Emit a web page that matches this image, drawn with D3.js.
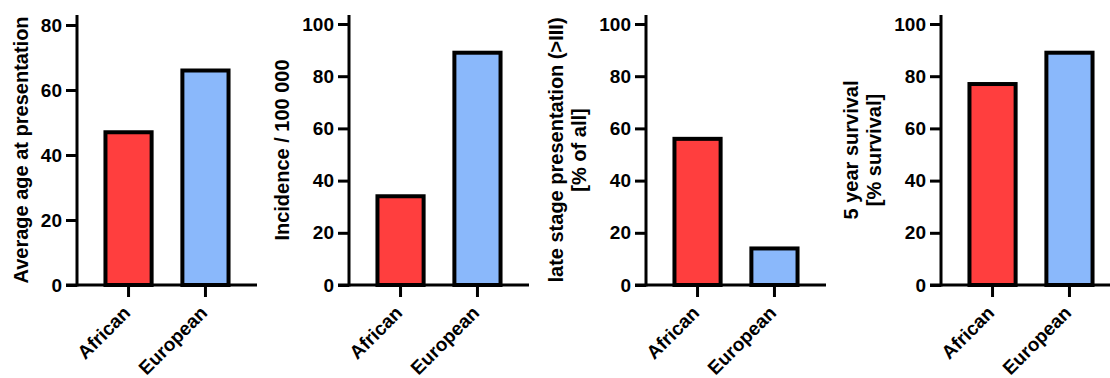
<!DOCTYPE html>
<html>
<head>
<meta charset="utf-8">
<title>Breast cancer: African vs European</title>
<script src="https://d3js.org/d3.v7.min.js"></script>
<style>
  body { margin: 0; background: #fff; }
  text { font-family: "Liberation Sans", Arial, sans-serif; font-weight: bold; fill: #000; }
</style>
</head>
<body>
<svg id="chart" width="1110" height="378"></svg>
<script>
// data
var groups = ["African", "European"];
var ageValues = [47, 66];
var incidenceValues = [34, 89];
var lateStageValues = [56, 14];
var survivalValues = [77, 89];

var ageTicks = [0, 20, 40, 60, 80];
var pctTicks = [0, 20, 40, 60, 80, 100];

var titleAge = ["Average age at presentation"];
var titleIncidence = ["Incidence / 100 000"];
var titleLate = ["late stage presentation (>III)", "[% of all]"];
var titleSurvival = ["5 year survival", "[% survival]"];

var colors = ["#ff3e3e", "#8ab8fb"];

var panels = [
  {values: ageValues, ticks: ageTicks, title: titleAge, left: 77},
  {values: incidenceValues, ticks: pctTicks, title: titleIncidence, left: 349},
  {values: lateStageValues, ticks: pctTicks, title: titleLate, left: 646},
  {values: survivalValues, ticks: pctTicks, title: titleSurvival, left: 941}
];

var svg = d3.select("#chart");
var y0 = 285, yTop = 24, axisTop = 15, plotW = 180;

panels.forEach(function(p) {
  var g = svg.append("g").attr("transform", "translate(" + p.left + ",0)");
  var top = p.ticks[p.ticks.length - 1];

  var y = d3.scaleLinear()
    .domain([0, top])
    .range([y0, top === 80 ? 25 : yTop]);

  var x = d3.scaleBand()
    .domain(groups)
    .range([0, plotW])
    .paddingInner(0.4)
    .paddingOuter(0.37);

  // bars
  g.selectAll("rect.bar")
    .data(p.values)
    .enter().append("rect")
      .attr("class", "bar")
      .attr("x", function(d, i) { return x(groups[i]); })
      .attr("width", x.bandwidth())
      .attr("y", function(d) { return y(d); })
      .attr("height", function(d) { return y(0) - y(d); })
      .attr("fill", function(d, i) { return colors[i]; })
      .attr("stroke", "#000")
      .attr("stroke-width", 4);

  // y axis
  var ya = g.append("g")
    .call(d3.axisLeft(y).tickValues(p.ticks).tickSize(11).tickPadding(4));
  ya.select(".domain").remove();
  ya.selectAll(".tick line").attr("stroke", "#000").attr("stroke-width", 3);
  ya.selectAll(".tick text").style("font-size", "19px").attr("fill", "#000");

  g.append("line")
    .attr("x1", 0).attr("x2", 0)
    .attr("y1", axisTop).attr("y2", y0 + 1.5)
    .attr("stroke", "#000").attr("stroke-width", 3);

  // x axis
  g.append("line")
    .attr("x1", -11).attr("x2", plotW)
    .attr("y1", y0).attr("y2", y0)
    .attr("stroke", "#000").attr("stroke-width", 3);

  g.selectAll("line.xtick")
    .data(groups)
    .enter().append("line")
      .attr("class", "xtick")
      .attr("x1", function(d) { return x(d) + x.bandwidth() / 2; })
      .attr("x2", function(d) { return x(d) + x.bandwidth() / 2; })
      .attr("y1", y0).attr("y2", y0 + 12)
      .attr("stroke", "#000").attr("stroke-width", 3);

  g.selectAll("text.xlab")
    .data(groups)
    .enter().append("text")
      .attr("class", "xlab")
      .attr("text-anchor", "end")
      .style("font-size", "19px")
      .attr("transform", function(d) {
        return "translate(" + (x(d) + x.bandwidth() / 2 + 3) + "," + (y0 + 29) + ") rotate(-45)";
      })
      .text(function(d) { return d; });

  // axis title, last line sits 13px left of the tick labels
  var tickLeft = ya.node().getBBox().x;
  var n = p.title.length;
  var t = g.append("text")
    .attr("text-anchor", "middle")
    .style("font-size", "20px")
    .attr("transform", "translate(" + (tickLeft - 13 - (n - 1) * 23) + ",150) rotate(-90)");
  p.title.forEach(function(line, i) {
    t.append("tspan")
      .attr("x", 0)
      .attr("dy", i === 0 ? 0 : 23)
      .text(line);
  });
});
</script>
</body>
</html>
